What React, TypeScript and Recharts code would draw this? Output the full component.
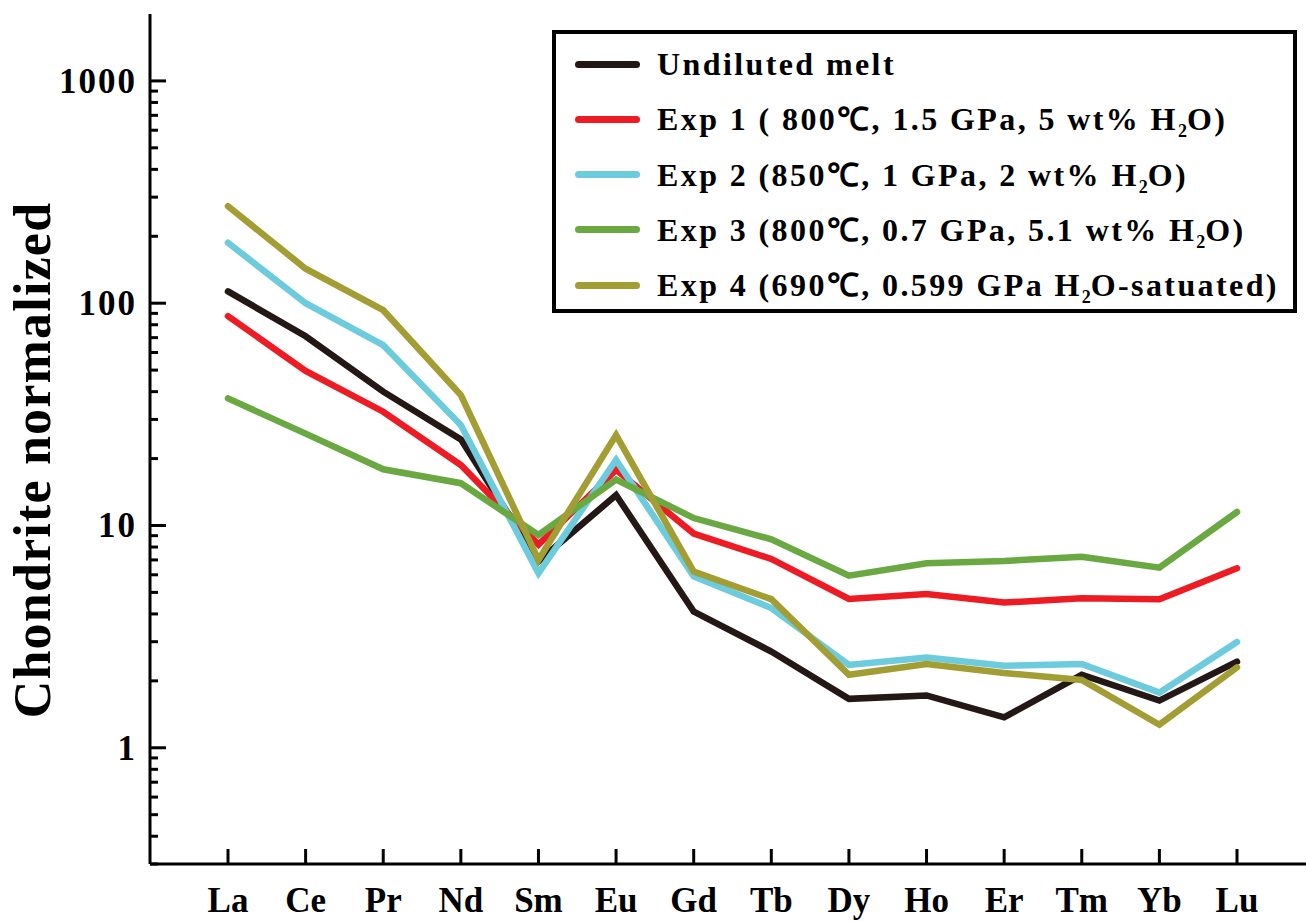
import React from 'react';
import { LineChart, Line, XAxis, YAxis, Legend } from 'recharts';

const elements = ['La', 'Ce', 'Pr', 'Nd', 'Sm', 'Eu', 'Gd', 'Tb', 'Dy', 'Ho', 'Er', 'Tm', 'Yb', 'Lu'];
const undilutedMelt = [113, 71, 40, 24.4, 6.9, 13.7, 4.1, 2.71, 1.66, 1.72, 1.37, 2.13, 1.63, 2.44];
const exp1 = [87.5, 49.6, 32.5, 18.7, 8.2, 17.8, 9.2, 7.07, 4.67, 4.92, 4.5, 4.71, 4.66, 6.42];
const exp2 = [187, 100, 64.7, 28.3, 6.1, 19.7, 5.9, 4.25, 2.36, 2.55, 2.34, 2.38, 1.77, 2.99];
const exp3 = [37.3, 25.9, 17.9, 15.5, 9.06, 16.1, 10.8, 8.67, 5.95, 6.76, 6.92, 7.24, 6.46, 11.5];
const exp4 = [273, 143, 93, 38.6, 7.0, 25.5, 6.2, 4.66, 2.13, 2.38, 2.17, 2.02, 1.27, 2.3];

const yTicks = [
  0.3, 0.4, 0.5, 0.6, 0.7, 0.8, 0.9,
  1, 2, 3, 4, 5, 6, 7, 8, 9,
  10, 20, 30, 40, 50, 60, 70, 80, 90,
  100, 200, 300, 400, 500, 600, 700, 800, 900,
  1000,
];
const majorTicks = [1, 10, 100, 1000];

const seriesKeys = ['undiluted', 'exp1', 'exp2', 'exp3', 'exp4'];
const seriesColors = ['#231815', '#ED1C24', '#6CCBDC', '#6AA842', '#A39E33'];
const legendParts: string[][] = [
  ['Undiluted melt'],
  ['Exp 1 ( 800℃, 1.5 GPa, 5 wt% H', '2', 'O)'],
  ['Exp 2 (850℃, 1 GPa, 2 wt% H', '2', 'O)'],
  ['Exp 3 (800℃, 0.7 GPa, 5.1 wt% H', '2', 'O)'],
  ['Exp 4 (690℃, 0.599 GPa H', '2', 'O-satuated)'],
];
const seriesValues = [undilutedMelt, exp1, exp2, exp3, exp4];

const data = elements.map((el, i) => {
  const row: Record<string, any> = { element: el };
  seriesKeys.forEach((k, s) => {
    row[k] = seriesValues[s][i];
  });
  return row;
});

const FONT = '"Liberation Serif", "Times New Roman", serif';

const YTick = (props: any) => {
  const { x, y, payload } = props;
  const v = payload.value;
  const major = majorTicks.includes(v);
  return (
    <g>
      <line x1={x} x2={x + (major ? 16 : 8)} y1={y} y2={y} stroke="#000" strokeWidth={3} />
      {major && (
        <text x={x - 13} y={y} dy={12} textAnchor="end" fontFamily={FONT} fontWeight="bold" fontSize={35} letterSpacing={2} fill="#000">
          {v}
        </text>
      )}
    </g>
  );
};

const XTick = (props: any) => {
  const { x, y, payload } = props;
  return (
    <g>
      <line x1={x} x2={x} y1={y} y2={y - 15} stroke="#000" strokeWidth={3} />
      <text x={x} y={y + 48} textAnchor="middle" fontFamily={FONT} fontWeight="bold" fontSize={35} fill="#000">
        {payload.value}
      </text>
    </g>
  );
};

const LegendBox = () => (
  <div
    style={{
      width: 745,
      height: 283,
      boxSizing: 'border-box',
      border: '4px solid #000',
      background: '#fff',
      position: 'relative',
      fontFamily: FONT,
      fontWeight: 'bold',
      fontSize: 32,
      letterSpacing: 2.4,
      color: '#000',
    }}
  >
    {legendParts.map((parts, i) => {
      const cy = 30 + 55.3 * i;
      return (
        <div key={i}>
          <div
            style={{
              position: 'absolute',
              left: 19,
              top: cy - 3.5,
              width: 65,
              height: 7,
              borderRadius: 4,
              background: seriesColors[i],
            }}
          />
          <div
            style={{
              position: 'absolute',
              left: 101,
              top: cy - 25,
              height: 50,
              lineHeight: '50px',
              whiteSpace: 'nowrap',
            }}
          >
            {parts[0]}
            {parts[1] && <span style={{ fontSize: 18, verticalAlign: -7, letterSpacing: 0 }}>{parts[1]}</span>}
            {parts[2]}
          </div>
        </div>
      );
    })}
  </div>
);

export default function App() {
  return (
    <div style={{ position: 'absolute', left: 0, top: 0, width: 1306, height: 921, overflow: 'hidden', background: '#fff' }}>
      <LineChart width={1330} height={921} data={data} margin={{ top: 14, right: 15, bottom: 0, left: 0 }}>
        <XAxis
          dataKey="element"
          height={57}
          padding={{ left: 78, right: 78 }}
          axisLine={{ stroke: '#000', strokeWidth: 3 }}
          tickLine={false}
          tickSize={0}
          tickMargin={0}
          interval={0}
          tick={<XTick />}
        />
        <XAxis
          xAxisId="top"
          orientation="top"
          dataKey="element"
          height={0}
          padding={{ left: 78, right: 78 }}
          axisLine={{ stroke: '#000', strokeWidth: 3 }}
          tickLine={false}
          tick={false}
        />
        <YAxis
          scale="log"
          domain={[0.3, 2000]}
          allowDataOverflow
          ticks={yTicks}
          interval={0}
          width={150}
          axisLine={{ stroke: '#000', strokeWidth: 3 }}
          tickLine={false}
          tickSize={0}
          tickMargin={0}
          tick={<YTick />}
          label={() => (
            <text
              x={50}
              y={460}
              transform="rotate(-90 50 460)"
              textAnchor="middle"
              fontFamily={FONT}
              fontWeight="bold"
              fontSize={52}
              letterSpacing={1.2}
              fill="#000"
            >
              Chondrite normalized
            </text>
          )}
        />
        <Legend
          layout="vertical"
          align="center"
          verticalAlign="middle"
          wrapperStyle={{ position: 'absolute', left: 552, top: 30, width: 745, height: 283, margin: 0 }}
          content={() => <LegendBox />}
        />
        {seriesKeys.map((k, s) => (
          <Line
            key={k}
            dataKey={k}
            stroke={seriesColors[s]}
            strokeWidth={6.5}
            strokeLinecap="round"
            strokeLinejoin="miter"
            dot={false}
            activeDot={false}
            isAnimationActive={false}
          />
        ))}
      </LineChart>
    </div>
  );
}
